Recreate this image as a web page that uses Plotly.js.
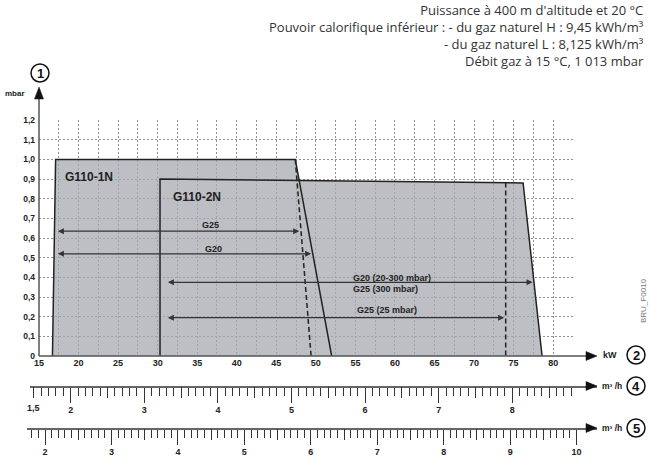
<!DOCTYPE html>
<html>
<head>
<meta charset="utf-8">
<script src="https://cdn.plot.ly/plotly-3.0.1.min.js"></script>
<style>html,body{margin:0;padding:0;background:#fff}#chart{width:651px;height:457px}</style>
</head>
<body>
<div id="chart"></div>
<script>
// ---- data ----
const kwTickVals = [15,20,25,30,35,40,45,50,55,60,65,70,75,80];
const kwTickText = ['15','20','25','30','35','40','45','50','55','60','65','70','75','80'];
const mbarTickVals = [0,0.1,0.2,0.3,0.4,0.5,0.6,0.7,0.8,0.9,1.0,1.1,1.2];
const mbarTickText = ['0','0,1','0,2','0,3','0,4','0,5','0,6','0,7','0,8','0,9','1,0','1,1','1,2'];

// G110-1N field (kW, mbar)
const g1nX = [16.7, 17.1, 47.4, 52.0];
const g1nY = [0, 1.0, 1.0, 0];
const g1nDashX = [47.4, 49.4];
const g1nDashY = [1.0, 0];
// G110-2N field
const g2nX = [30.3, 30.3, 76.2, 78.6];
const g2nY = [0, 0.9, 0.88, 0];
const g2nDashX = [74.0, 74.0];
const g2nDashY = [0.882, 0];

// range arrows [xStart, xEnd, y]
const arrowsData = [
  {x0:17.2, x1:47.9, y:0.635},
  {x0:17.2, x1:49.4, y:0.52},
  {x0:31.1, x1:77.4, y:0.375},
  {x0:31.1, x1:73.8, y:0.195}
];
const labelTexts = ['G25','G20','G20 (20-300 mbar)','G25 (300 mbar)','G25 (25 mbar)'];

// secondary scales (m³/h)
const hTickVals = [2,3,4,5,6,7,8];
const hTickText = ['2','3','4','5','6','7','8'];
const hFirstLabel = '1,5';
const lTickVals = [2,3,4,5,6,7,8,9,10];
const lTickText = ['2','3','4','5','6','7','8','9','10'];

const noteLines = [
  'Puissance à 400 m d\'altitude et 20 °C',
  'Pouvoir calorifique inférieur : - du gaz naturel H : 9,45 kWh/m³',
  '- du gaz naturel L : 8,125 kWh/m³',
  'Débit gaz à 15 °C, 1 013 mbar'
];

// ---- layout geometry ----
const ml=25, mr=50, mt=120, mb=5, FW=651, FH=457;
const W = FW-ml-mr, H = FH-mt-mb;
const px = p => (p-ml)/W;
const py = p => (FH-mb-p)/H;

// pixel mappings for the secondary scales
const v4 = p => 2 + (p-70.7)/73.6;
const v5 = p => 2 + (p-45)/66.45;

function steps(a,b,s){const r=[];for(let v=a;v<=b+1e-9;v+=s)r.push(Math.round(v*100)/100);return r;}
const hMinor = steps(1.5, 8.8, 0.1);
const hHalf = steps(1.5, 8.5, 1);
const lMinor = steps(1.8, 10, 0.1);
const lHalf = steps(2.5, 9.5, 1);

const FONT = 'Liberation Sans, Arial, sans-serif';
const bold = (s,c) => ({family:FONT, size:s, color:c||'#222', weight:700});

const fillX = g1nX.concat([null], g2nX);
const fillY = g1nY.concat([null], g2nY);

const traces = [
  {x:fillX, y:fillY, type:'scatter', mode:'lines', fill:'toself', fillcolor:'rgba(168,169,176,0.75)', line:{width:0}, hoverinfo:'skip', connectgaps:false},
  {x:g1nX, y:g1nY, type:'scatter', mode:'lines', line:{color:'#222', width:1.5}, hoverinfo:'skip'},
  {x:g2nX, y:g2nY, type:'scatter', mode:'lines', line:{color:'#222', width:1.5}, hoverinfo:'skip'},
  {x:g1nDashX, y:g1nDashY, type:'scatter', mode:'lines', line:{color:'#222', width:1.5, dash:'5px,3px'}, hoverinfo:'skip'},
  {x:g2nDashX, y:g2nDashY, type:'scatter', mode:'lines', line:{color:'#222', width:1.5, dash:'5px,3px'}, hoverinfo:'skip'},
  {x:hTickVals, y:hTickVals.map(()=>0), xaxis:'x2', yaxis:'y3', type:'scatter', mode:'markers', marker:{opacity:0}, hoverinfo:'skip'},
  {x:hHalf, y:hHalf.map(()=>0), xaxis:'x4', yaxis:'y3', type:'scatter', mode:'markers', marker:{opacity:0}, hoverinfo:'skip'},
  {x:lTickVals, y:lTickVals.map(()=>0), xaxis:'x3', yaxis:'y4', type:'scatter', mode:'markers', marker:{opacity:0}, hoverinfo:'skip'},
  {x:lHalf, y:lHalf.map(()=>0), xaxis:'x5', yaxis:'y4', type:'scatter', mode:'markers', marker:{opacity:0}, hoverinfo:'skip'}
];

const gridDash = '2px,2px';
const gridColor = '#8f8f8f';

const secAxis = (dom, rng, anchor, vals, text, len, minorVals) => {
  const a = {domain:dom, range:rng, anchor:anchor, showline:true, linecolor:'#666', linewidth:1.5,
    ticks:'outside', ticklen:len, tickwidth:1, tickcolor:'#333', showgrid:false, zeroline:false,
    tickmode:'array', tickvals:vals, ticktext:text, tickfont:bold(9), fixedrange:true};
  if(minorVals) a.minor = {tickmode:'array', tickvals:minorVals, ticks:'outside', ticklen:8, tickwidth:1, tickcolor:'#333', showgrid:false};
  return a;
};

const layout = {
  width:FW, height:FH, margin:{l:ml, r:mr, t:mt, b:mb},
  paper_bgcolor:'#fff', plot_bgcolor:'#fff', showlegend:false,
  xaxis:{domain:[px(39), px(573)], range:[15,82.51], anchor:'y', tickmode:'array', tickvals:kwTickVals, ticktext:kwTickText,
    ticks:'', showline:false, zeroline:false, showgrid:true, gridcolor:gridColor, griddash:gridDash, gridwidth:1,
    minor:{dtick:2.5, tick0:15, showgrid:true, gridcolor:gridColor, griddash:gridDash, gridwidth:1, ticks:''},
    tickfont:bold(9), fixedrange:true},
  yaxis:{domain:[py(356), 1], range:[0,1.2005], anchor:'x', tickmode:'array', tickvals:mbarTickVals, ticktext:mbarTickText,
    ticks:'', showline:false, zeroline:false, showgrid:true, gridcolor:gridColor, griddash:gridDash, gridwidth:1,
    tickfont:bold(8.5), ticklabelstandoff:3, fixedrange:true},
  xaxis2: secAxis([px(30), px(597)], [v4(30), v4(597)], 'y3', hTickVals, hTickText, 15, hMinor),
  xaxis4: Object.assign(secAxis([px(30), px(597)], [v4(30), v4(597)], 'y3', hHalf, hHalf.map(()=>''), 11), {overlaying:'x2', showline:false}),
  xaxis3: secAxis([px(27), px(597)], [v5(27), v5(597)], 'y4', lTickVals, lTickText, 15, lMinor),
  xaxis5: Object.assign(secAxis([px(27), px(597)], [v5(27), v5(597)], 'y4', lHalf, lHalf.map(()=>''), 11), {overlaying:'x3', showline:false}),
  yaxis3:{domain:[py(386), py(386)+0.005], visible:false, anchor:'x2', range:[0,1], fixedrange:true},
  yaxis4:{domain:[py(428), py(428)+0.005], visible:false, anchor:'x3', range:[0,1], fixedrange:true},
  shapes:[], annotations:[]
};

// axis lines with arrowheads
layout.shapes.push({type:'line', xref:'paper', yref:'paper', x0:px(39), x1:px(590), y0:py(356), y1:py(356), line:{color:'#555', width:1.5}});
layout.shapes.push({type:'line', xref:'paper', yref:'paper', x0:px(39), x1:px(39), y0:py(356), y1:py(96), line:{color:'#555', width:1.5}});
const tri = (pts) => 'M' + pts.map(p => px(p[0]) + ',' + py(p[1])).join(' L') + ' Z';
[[597,356],[597,386],[597,428]].forEach(([tx,ty]) => {
  layout.shapes.push({type:'path', xref:'paper', yref:'paper', path:tri([[tx,ty],[tx-11,ty-4.5],[tx-11,ty+4.5]]), fillcolor:'#111', line:{color:'#111', width:0.5}});
});
layout.shapes.push({type:'path', xref:'paper', yref:'paper', path:tri([[39,87],[34.5,99],[43.5,99]]), fillcolor:'#111', line:{color:'#111', width:0.5}});

// circled numbers
[[40,73,'1'],[636,355,'2'],[636,386,'4'],[636,428,'5']].forEach(([cx,cy,t]) => {
  layout.shapes.push({type:'circle', xref:'paper', yref:'paper', x0:px(cx-9), x1:px(cx+9), y0:py(cy+9), y1:py(cy-9), line:{color:'#111', width:1.5}});
  layout.annotations.push({xref:'paper', yref:'paper', x:px(cx), y:py(cy), text:t, showarrow:false, font:bold(13,'#111'), xanchor:'center', yanchor:'middle'});
});

// axis unit labels
layout.annotations.push({xref:'paper', yref:'paper', x:px(15), y:py(93), text:'mbar', showarrow:false, font:bold(8), xanchor:'center', yanchor:'middle'});
layout.annotations.push({xref:'paper', yref:'paper', x:px(601), y:py(355), text:'kW', showarrow:false, font:bold(9), xanchor:'left', yanchor:'middle'});
layout.annotations.push({xref:'paper', yref:'paper', x:px(600), y:py(386), text:'m³ /h', showarrow:false, font:bold(8.5), xanchor:'left', yanchor:'middle'});
layout.annotations.push({xref:'paper', yref:'paper', x:px(600), y:py(428), text:'m³ /h', showarrow:false, font:bold(8.5), xanchor:'left', yanchor:'middle'});
layout.annotations.push({xref:'x2', yref:'paper', x:1.5, y:py(408), text:hFirstLabel, showarrow:false, font:bold(9), xanchor:'center', yanchor:'middle'});

// reference code
layout.annotations.push({xref:'paper', yref:'paper', x:px(643), y:py(301), text:'BRU_F0010', textangle:-90, showarrow:false, font:{family:FONT, size:8, color:'#777'}, xanchor:'center', yanchor:'middle'});

// notes at top right (one block, right aligned)
layout.annotations.push({xref:'paper', yref:'paper', x:px(645), y:py(36), text:noteLines.join('<br>'), align:'right', showarrow:false, xanchor:'right', yanchor:'middle', borderpad:0, font:{family:'Open Sans, sans-serif', size:13, color:'#333'}});

// field labels
layout.annotations.push({xref:'x', yref:'y', x:18.0, y:0.91, text:'G110-1N', showarrow:false, xanchor:'left', yanchor:'middle', font:bold(12,'#222')});
layout.annotations.push({xref:'x', yref:'y', x:31.7, y:0.81, text:'G110-2N', showarrow:false, xanchor:'left', yanchor:'middle', font:bold(12,'#222')});

// range arrows
arrowsData.forEach(a => {
  layout.annotations.push({xref:'x', yref:'y', axref:'x', ayref:'y', x:a.x1, y:a.y, ax:a.x0, ay:a.y, text:'', showarrow:true,
    arrowhead:2, startarrowhead:2, arrowside:'end+start', arrowsize:1, startarrowsize:1, arrowwidth:1.2, arrowcolor:'#333', standoff:0, startstandoff:0});
});
// arrow labels
const labelPos = [
  {x:36.7, y:0.666, xa:'center'},
  {x:37.0, y:0.544, xa:'center'},
  {x:54.5, y:0.395, xa:'left'},
  {x:54.5, y:0.339, xa:'left'},
  {x:55.0, y:0.234, xa:'left'}
];
labelTexts.forEach((t,i) => {
  const p = labelPos[i];
  layout.annotations.push({xref:'x', yref:'y', x:p.x, y:p.y, text:t, showarrow:false, xanchor:p.xa, yanchor:'middle', font:bold(9,'#222')});
});

Plotly.newPlot('chart', traces, layout, {staticPlot:true, displayModeBar:false});
</script>
</body>
</html>
